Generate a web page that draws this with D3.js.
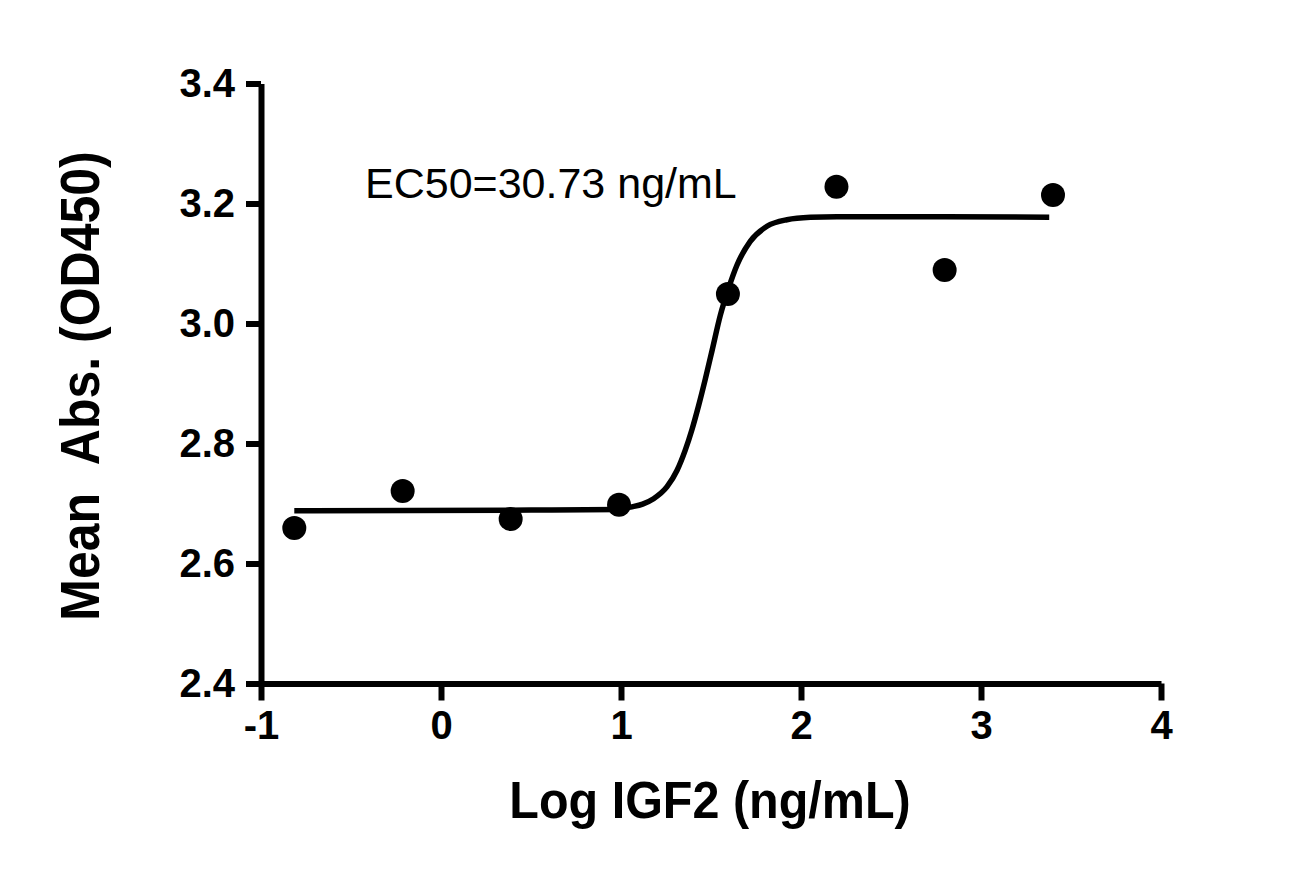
<!DOCTYPE html>
<html>
<head>
<meta charset="utf-8">
<script src="https://cdn.jsdelivr.net/npm/d3@7"></script>
<style>
  body { margin: 0; background: white; }
  text { font-family: Arial, "Liberation Sans", sans-serif; }
</style>
</head>
<body>
<div id="container"></div>
<script>
let w = 1299;
let h = 870;

// measured points: log concentration vs mean absorbance
let logConc = [-0.815, -0.213, 0.387, 0.989, 1.594, 2.197, 2.798, 3.4];
let meanAbs = [2.659, 2.721, 2.674, 2.698, 3.049, 3.228, 3.089, 3.214];

// fitted curve
let curveX = [-0.815, 0.5, 0.991, 1.052, 1.12, 1.181, 1.256, 1.311, 1.357, 1.394, 1.431, 1.468, 1.506, 1.552, 1.598, 1.644, 1.718, 1.811, 1.922, 2.052, 2.2, 2.8, 3.379];
let curveY = [2.688, 2.689, 2.690, 2.694, 2.699, 2.708, 2.728, 2.755, 2.789, 2.823, 2.863, 2.907, 2.955, 3.014, 3.059, 3.097, 3.137, 3.162, 3.173, 3.177, 3.178, 3.178, 3.177];

let xTicks = [-1, 0, 1, 2, 3, 4];
let yTicks = [2.4, 2.6, 2.8, 3.0, 3.2, 3.4];
let ec50Label = "EC50=30.73 ng/mL";

let viz = d3.select("#container")
  .append("svg")
    .attr("width", w)
    .attr("height", h)
    .style("background-color", "white")
;

let x = d3.scaleLinear().domain([-1, 4]).range([261, 1161]);
let y = d3.scaleLinear().domain([2.4, 3.4]).range([683.5, 83.5]);

// y axis
let yAxis = viz.append("g")
  .attr("transform", "translate(" + x(-1) + ",0)")
  .call(d3.axisLeft(y).tickValues(yTicks).tickFormat(d3.format(".1f")).tickSize(15).tickSizeOuter(0).tickPadding(10));

// x axis, plain hyphen for the minus
let xAxis = viz.append("g")
  .attr("transform", "translate(0," + y(2.4) + ")")
  .call(d3.axisBottom(x).tickValues(xTicks).tickFormat(function(d){ return String(d); }).tickSize(17).tickSizeOuter(0).tickPadding(10));

[xAxis, yAxis].forEach(function(a){
  a.select(".domain").attr("stroke", "black").attr("stroke-width", 6);
  a.selectAll(".tick line").attr("stroke", "black").attr("stroke-width", 6);
  a.selectAll(".tick text")
    .attr("font-family", "Arial, 'Liberation Sans', sans-serif")
    .attr("font-size", 40)
    .attr("font-weight", "bold")
    .attr("fill", "black");
});
yAxis.selectAll(".tick text").attr("x", -26);
xAxis.selectAll(".tick text").attr("y", 27).attr("dy", "0.71em");

// fitted curve
let curvePts = curveX.map(function(d, i){ return [d, curveY[i]]; });
let line = d3.line()
  .x(function(d){ return x(d[0]); })
  .y(function(d){ return y(d[1]); })
  .curve(d3.curveMonotoneX);

viz.append("path")
  .datum(curvePts)
  .attr("d", line)
  .attr("fill", "none")
  .attr("stroke", "black")
  .attr("stroke-width", 5.5)
;

// data points
let pts = logConc.map(function(d, i){ return [d, meanAbs[i]]; });
viz.selectAll(".pt").data(pts).enter()
  .append("circle")
    .attr("class", "pt")
    .attr("cx", function(d){ return x(d[0]); })
    .attr("cy", function(d){ return y(d[1]); })
    .attr("r", 12)
    .attr("fill", "black")
;

// EC50 annotation
viz.append("text")
  .text(ec50Label)
  .attr("x", 365)
  .attr("y", 198)
  .attr("font-size", 43)
  .attr("fill", "black")
;

// axis titles
viz.append("text")
  .text("Log IGF2 (ng/mL)")
  .attr("text-anchor", "middle")
  .attr("font-weight", "bold")
  .attr("font-size", 48.5)
  .attr("transform", "translate(710,818) scale(1,1.05)")
  .attr("fill", "black")
;

viz.append("text")
  .text("Mean\u00a0\u00a0Abs. (OD450)")
  .attr("text-anchor", "middle")
  .attr("font-weight", "bold")
  .attr("font-size", 50)
  .attr("transform", "translate(99,386) rotate(-90) scale(1,1.1)")
  .attr("fill", "black")
;
</script>
</body>
</html>
